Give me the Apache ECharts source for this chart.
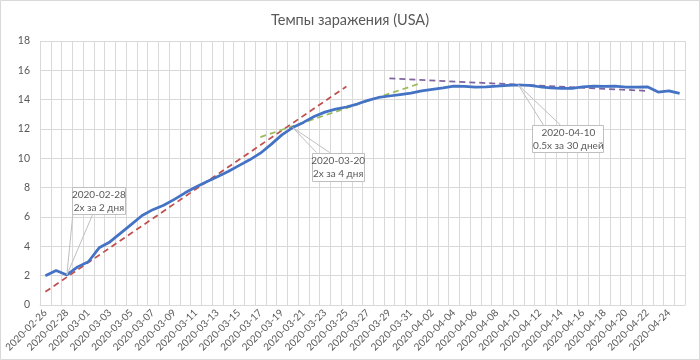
<!DOCTYPE html>
<html><head><meta charset="utf-8">
<script src="https://cdn.jsdelivr.net/npm/echarts@6/dist/echarts.min.js"></script>
<style>html,body{margin:0;padding:0;background:#fff}#c{width:700px;height:360px}</style>
</head><body><div id="c"></div>
<script>
const dates = [
 '2020-02-26','2020-02-27','2020-02-28','2020-02-29','2020-03-01','2020-03-02','2020-03-03','2020-03-04','2020-03-05','2020-03-06',
 '2020-03-07','2020-03-08','2020-03-09','2020-03-10','2020-03-11','2020-03-12','2020-03-13','2020-03-14','2020-03-15','2020-03-16',
 '2020-03-17','2020-03-18','2020-03-19','2020-03-20','2020-03-21','2020-03-22','2020-03-23','2020-03-24','2020-03-25','2020-03-26',
 '2020-03-27','2020-03-28','2020-03-29','2020-03-30','2020-03-31','2020-04-01','2020-04-02','2020-04-03','2020-04-04','2020-04-05',
 '2020-04-06','2020-04-07','2020-04-08','2020-04-09','2020-04-10','2020-04-11','2020-04-12','2020-04-13','2020-04-14','2020-04-15',
 '2020-04-16','2020-04-17','2020-04-18','2020-04-19','2020-04-20','2020-04-21','2020-04-22','2020-04-23','2020-04-24','2020-04-25'
];
const infectionRate = [
 2.0, 2.35, 2.05, 2.6, 2.95, 3.9, 4.3, 4.9, 5.5, 6.1,
 6.5, 6.8, 7.2, 7.65, 8.05, 8.4, 8.75, 9.1, 9.5, 9.9,
 10.35, 10.95, 11.6, 12.1, 12.45, 12.85, 13.15, 13.35, 13.5, 13.7,
 13.95, 14.15, 14.25, 14.35, 14.45, 14.6, 14.7, 14.8, 14.92, 14.9,
 14.85, 14.88, 14.92, 14.97, 15.0, 14.98, 14.88, 14.8, 14.77, 14.77,
 14.88, 14.93, 14.9, 14.93, 14.85, 14.85, 14.88, 14.52, 14.6, 14.43
];
const trend2Days = [['2020-02-26', 0.9], ['2020-03-25', 14.9]];
const trend4Days = [['2020-03-17', 11.45], ['2020-04-01', 15.15]];
const trend30Days = [['2020-03-29', 15.45], ['2020-04-22', 14.6]];
const annotationDates = ['2020-02-28', '2020-03-20', '2020-04-10'];
const annotationTexts = ['2020-02-28\n2x за 2 дня', '2020-03-20\n2x за 4 дня', '2020-04-10\n0.5x за 30 дней'];
const yMin = 0, yMax = 18, yStep = 2;

// styling / layout of callouts (offsets relative to anchor point, pixels)
const calloutBox = [
  {dx: 5, dy: -88, w: 53, h: 27, base: [1, 21]},
  {dx: 19, dy: 25, w: 52, h: 28, base: [5, 18]},
  {dx: 14, dy: 40, w: 71, h: 27, base: [11, 28]}
];

const FONT = 'Lato, "Liberation Sans", Arial, sans-serif';
const TXT = '#595959';
const GRID = '#d9d9d9';

const chart = echarts.init(document.getElementById('c'), null, {renderer: 'canvas'});
chart.setOption({
  animation: false,
  backgroundColor: '#fff',
  title: {
    text: 'Темпы заражения (USA)', left: 'center', top: 8,
    textStyle: {fontFamily: FONT, fontSize: 14.5, fontWeight: 'normal', color: TXT}
  },
  grid: {left: 40, right: 15, top: 41, bottom: 55, containLabel: false},
  xAxis: {
    type: 'category', data: dates, boundaryGap: true,
    axisLine: {show: true, lineStyle: {color: GRID, width: 1}},
    axisTick: {show: false},
    splitLine: {show: true, interval: 0, lineStyle: {color: GRID, width: 1}},
    axisLabel: {interval: 1, rotate: 45, fontSize: 10, color: TXT, fontFamily: FONT, margin: 6}
  },
  yAxis: {
    type: 'value', min: yMin, max: yMax, interval: yStep,
    axisLine: {show: false}, axisTick: {show: false},
    splitLine: {show: true, lineStyle: {color: GRID, width: 1}},
    axisLabel: {fontSize: 10.5, color: TXT, fontFamily: FONT, margin: 10}
  },
  series: [
    {name: 'rate', type: 'line', data: infectionRate, symbol: 'none', z: 5,
     lineStyle: {color: '#4472C4', width: 2.75}, smooth: false},
    {name: '2x/2d', type: 'line', data: trend2Days, symbol: 'none', z: 4,
     lineStyle: {color: '#C0504D', width: 1.75, type: [6, 4]}},
    {name: '2x/4d', type: 'line', data: trend4Days, symbol: 'none', z: 4,
     lineStyle: {color: '#9BBB59', width: 1.75, type: [6, 4]}},
    {name: '0.5x/30d', type: 'line', data: trend30Days, symbol: 'none', z: 4,
     lineStyle: {color: '#8064A2', width: 1.75, type: [6, 4]}}
  ]
});

const graphics = [{
  type: 'rect', shape: {x: 0.5, y: 0.5, width: 699, height: 359},
  style: {fill: 'none', stroke: GRID, lineWidth: 1}, silent: true, z: 100
}];
annotationDates.forEach((d, k) => {
  const idx = dates.indexOf(d);
  const p = chart.convertToPixel({gridIndex: 0}, [idx, infectionRate[idx]]);
  const b = calloutBox[k];
  const left = p[0] + b.dx, top = p[1] + b.dy;
  const baseY = b.dy < 0 ? top + b.h : top;
  graphics.push({
    type: 'polyline', z: 100, silent: true,
    shape: {points: [[left + b.base[0], baseY], [p[0], p[1]], [left + b.base[1], baseY]]},
    style: {stroke: '#bfbfbf', fill: 'none', lineWidth: 1}
  });
  graphics.push({
    type: 'rect', z: 101, silent: true,
    shape: {x: Math.round(left) + 0.5, y: Math.round(top) + 0.5, width: b.w, height: b.h},
    style: {fill: '#fff', stroke: '#bfbfbf', lineWidth: 1}
  });
  graphics.push({
    type: 'text', z: 102, silent: true,
    x: left + b.w / 2 + 0.5, y: top + b.h / 2 + 1,
    style: {text: annotationTexts[k], fill: TXT, font: '10px ' + FONT, align: 'center', verticalAlign: 'middle', lineHeight: 13}
  });
});
chart.setOption({graphic: graphics});
</script>
</body></html>
